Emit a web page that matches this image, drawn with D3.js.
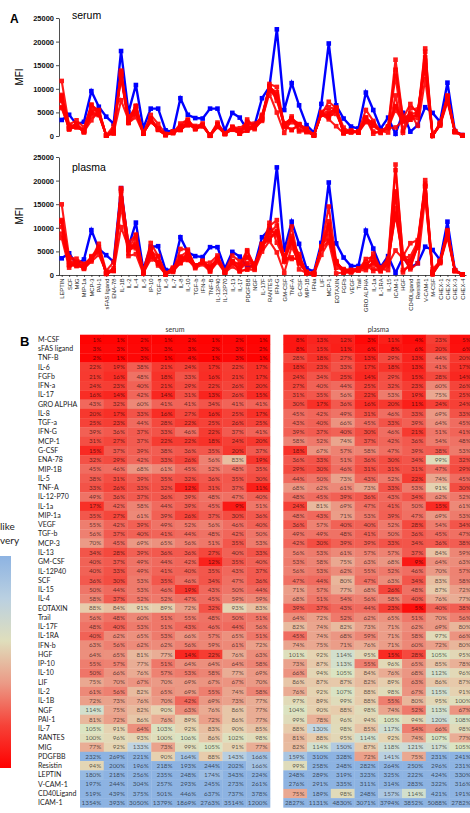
<!DOCTYPE html>
<html>
<head>
<meta charset="utf-8">
<script src="https://cdn.jsdelivr.net/npm/d3@7"></script>
<style>
body { margin: 0; background: #fff; }
svg { display: block; }
.axis text { font-family: "Liberation Sans", Arial, sans-serif; font-size: 7.5px; font-weight: bold; fill: #111; }
.axis path, .axis line { stroke: #222; stroke-width: 0.8; }
.xaxis text { font-family: "Liberation Sans", Arial, sans-serif; font-size: 5.8px; fill: #222; }
.xaxis path, .xaxis line { stroke: #222; stroke-width: 0.8; }
.hm { font-family: Lato, "Open Sans", sans-serif; }
</style>
</head>
<body>
<div id="chart"></div>
<script>
// analytes in the order of the x axis of panel A
var categories = ["LEPTIN","SCF","MIG","MIP-1a","MCP-3","PAI-1","sFAS ligand","ENA-78","IL-1B","IL-2",
  "IL-4","IL-5","IP-10","TGF-a","IL-6","IL-7","IL-8","IL-10","TGF-b","IFN-b",
  "TNF-B","IL-12P40","IL-12P70","IL-13","IL-17","PDGFBB","NGF","IL-17F","RANTES","IFN-G",
  "GM-CSF","TNF-A","G-CSF","MIP-1B","IFNa","LIF","MCP-1","EOTAXIN","FGFb","VEGF",
  "Trail","GRO ALPHA","IL-1a","IL-1RA","IL-15","ICAM-1","HGF","CD40Ligand","Resistin","V-CAM-1",
  "M-CSF","CHEX-1","CHEX-2","CHEX-3","CHEX-4"];

// blue line (control) MFI
var serumControl = [3400,4500,2500,3000,9500,6200,4100,2600,18000,5000,
  10800,1700,5800,5800,1200,900,8000,4500,3800,3700,
  5800,5800,1200,4900,3900,1300,2300,8000,10400,22600,
  5500,11200,6500,2300,700,6800,19600,6500,3700,2000,
  1600,9200,5500,1600,3900,460,4900,920,2300,6100,
  4900,3000,11300,1060,200];
var plasmaControl = [3530,4600,2300,3300,9500,5500,4200,2800,18400,6000,
  11100,1200,6000,6100,1060,1200,8000,4800,4000,3800,
  5900,5900,1400,4900,3900,1600,2100,8000,9700,22800,
  5300,11300,6600,1400,700,6800,19600,6700,3700,1900,
  1900,9400,5600,1700,4000,460,3800,1600,2500,6000,
  5300,3200,11300,1060,150];

// CHEX beads are not in table B: sample MFI
var chexNames = ["CHEX-1","CHEX-2","CHEX-3","CHEX-4"];
var serumChex = [[2600,2400,2800,2300,2700,2200,2500,2600],
  [8200,7600,8600,7800,8400,7200,8300,7900],
  [950,900,1000,850,950,800,900,950],
  [150,120,180,130,160,110,150,140]];
var plasmaChex = [[2900,2600,3000,2700,2800,2500,2900,2750],
  [9200,8400,9500,8800,9000,8000,9300,8700],
  [950,850,1000,900,950,800,900,950],
  [120,100,150,110,130,90,120,110]];

// table B rows (sample / control, %)
var rowLabels = ["M-CSF","sFAS ligand","TNF-B","IL-6","FGFb","IFN-a","IL-17","GRO ALPHA","IL-8","TGF-a",
  "IFN-G","MCP-1","G-CSF","ENA-78","MIP-1B","IL-5","TNF-A","IL-12-P70","IL-1a","MIP-1a",
  "VEGF","TGF-b","MCP-3","IL-13","GM-CSF","IL-12P40","SCF","IL-15","IL-4","EOTAXIN",
  "Trail","IL-17F","IL-1RA","IFN-b","HGF","IP-10","IL-10","LIF","IL-2","IL-1B",
  "NGF","PAI-1","IL-7","RANTES","MIG","PDGFBB","Resistin","LEPTIN","V-CAM-1","CD40Ligand","ICAM-1"];

var serumPct = [
  [1,1,2,1,2,1,2,1],[3,3,3,3,3,2,3,2],[2,1,3,1,4,1,3,1],[22,19,38,21,24,17,22,17],
  [21,16,48,18,33,16,21,17],[24,23,40,21,29,22,26,20],[16,14,42,14,31,13,26,15],
  [43,32,60,41,41,34,41,41],[20,17,33,16,27,16,25,17],[25,23,44,28,22,25,26,25],
  [39,36,37,33,46,22,37,41],[31,27,37,22,22,18,24,20],[15,37,39,38,36,35,20,37],
  [32,29,42,33,26,56,83,19],[45,46,68,61,45,52,48,35],[38,31,39,35,32,36,35,30],
  [33,26,33,32,12,31,37,11],[49,36,37,36,39,48,47,40],[17,42,58,44,39,45,9,51],
  [35,27,61,39,26,37,30,36],[55,42,39,49,52,56,46,40],[56,37,40,41,44,48,42,50],
  [70,45,69,65,56,51,35,53],[34,28,39,36,36,27,40,33],[40,37,49,44,42,12,35,40],
  [40,33,49,41,40,35,43,37],[36,30,53,35,46,34,47,36],[50,44,53,46,19,43,50,44],
  [58,37,52,52,47,45,59,59],[88,84,91,89,72,32,93,83],[56,48,60,51,55,48,50,51],
  [48,40,53,51,43,46,44,56],[40,62,65,53,66,57,65,51],[63,56,62,62,56,59,61,72],
  [64,65,81,77,14,22,76,63],[55,57,77,51,64,64,64,58],[50,66,76,57,53,58,77,69],
  [75,70,67,70,69,67,67,70],[61,56,82,65,69,55,74,58],[72,73,76,70,42,69,73,77],
  [114,75,82,90,63,76,86,77],[81,72,86,76,89,72,86,77],[105,91,64,103,92,83,90,85],
  [100,96,93,100,106,86,102,98],[77,92,133,73,99,105,91,77],[232,269,221,90,164,88,143,166],
  [94,200,196,218,193,244,202,166],[180,218,256,235,248,174,343,224],[197,244,304,257,293,245,273,261],
  [519,439,375,501,446,637,737,378],[1354,393,3050,1379,1869,2763,3514,1200]];

var plasmaPct = [
  [8,13,12,3,11,4,23,5],[8,15,11,6,8,6,20,6],[28,18,27,13,29,13,44,20],[18,23,33,17,18,13,41,17],
  [24,34,25,14,29,15,28,14],[27,40,44,25,32,23,60,26],[31,35,56,22,53,19,75,25],
  [30,17,36,16,20,11,24,24],[45,42,49,31,46,33,69,33],[43,40,66,45,33,39,64,45],
  [39,37,40,30,46,21,51,41],[58,52,74,37,42,36,54,48],[18,67,57,58,47,39,38,53],
  [36,33,51,36,30,34,99,32],[29,30,46,31,31,31,47,29],[44,50,73,43,52,22,74,45],
  [68,62,61,73,33,53,91,30],[48,45,39,36,43,34,62,52],[24,81,69,47,41,50,15,61],
  [48,43,71,53,39,47,69,53],[36,57,40,40,52,28,54,34],[49,49,48,41,50,36,45,47],
  [42,30,39,39,33,34,36,38],[56,53,61,57,57,37,84,59],[53,58,75,63,68,9,64,63],
  [56,53,62,55,52,46,70,57],[47,44,80,47,63,34,83,58],[71,57,77,68,26,48,87,72],
  [68,51,54,56,58,40,76,77],[39,37,43,44,23,5,40,38],[64,72,52,62,65,51,70,56],
  [82,74,82,73,71,62,69,80],[45,74,68,59,71,58,97,66],[74,75,71,76,71,60,72,80],
  [101,92,114,95,15,28,105,95],[73,87,113,55,96,65,85,78],[66,94,105,84,76,68,112,96],
  [86,87,87,82,89,63,86,87],[76,92,107,88,98,67,115,91],[97,89,99,88,55,80,95,100],
  [104,90,88,98,74,52,113,67],[99,78,96,94,105,94,120,108],[88,130,98,85,117,54,66,98],
  [81,88,95,114,92,74,107,77],[82,114,150,87,118,121,117,105],[159,310,328,72,141,75,231,241],
  [99,258,248,282,264,250,296,231],[248,289,319,323,325,222,424,330],[276,291,335,311,314,283,322,316],
  [75,189,98,248,157,114,421,191],[2827,1131,4830,3071,3794,3852,5088,2782]];

var yTicks = [0, 5000, 10000, 15000, 20000, 25000];

var svg = d3.select("#chart").append("svg")
  .attr("width", 470)
  .attr("height", 813);

function key(s) { return s.toLowerCase().replace(/[^a-z0-9]/g, ""); }

var rowIndex = {};
rowLabels.forEach(function(r, i) { rowIndex[key(r)] = i; });

// red lines: sample MFI = control MFI x the ratio printed in table B
function sampleSeries(control, pct, chex) {
  var out = [];
  for (var s = 0; s < 8; s++) {
    out.push(categories.map(function(c, i) {
      var ci = chexNames.indexOf(c);
      if (ci >= 0) return chex[ci][s];
      return control[i] * pct[rowIndex[key(c)]][s] / 100;
    }));
  }
  return out;
}

var x = d3.scalePoint().domain(categories).range([58, 466]).padding(0.5);

function panel(top, bottom, control, samples, title, titleY, withLabels) {
  var y = d3.scaleLinear().domain([0, 25000]).range([bottom, top]);
  var g = svg.append("g");

  g.append("g")
    .attr("class", "axis")
    .attr("transform", "translate(59,0)")
    .call(d3.axisLeft(y).tickValues(yTicks).tickFormat(d3.format("d")).tickSize(3).tickSizeOuter(0).tickPadding(2));

  if (withLabels) {
    var xa = g.append("g")
      .attr("class", "xaxis")
      .attr("transform", "translate(0," + bottom + ")")
      .call(d3.axisBottom(x).tickSize(2).tickSizeOuter(0));
    xa.selectAll("text")
      .attr("transform", "rotate(-90)")
      .attr("text-anchor", "end")
      .attr("x", -3.5)
      .attr("y", 0)
      .attr("dy", "0.35em");
  }

  g.append("text")
    .attr("transform", "translate(23," + ((top + bottom) / 2) + ") rotate(-90)")
    .attr("text-anchor", "middle")
    .attr("font-family", "Liberation Sans, Arial, sans-serif")
    .attr("font-size", 10)
    .text("MFI");

  g.append("text")
    .attr("x", 72).attr("y", titleY)
    .attr("font-family", "Liberation Sans, Arial, sans-serif")
    .attr("font-size", 10.5)
    .text(title);

  var line = d3.line()
    .x(function(d, i) { return x(categories[i]); })
    .y(function(d) { return y(d); });

  // blue control
  g.append("path").datum(control)
    .attr("fill", "none").attr("stroke", "#0000ff").attr("stroke-width", 2.4)
    .attr("d", line);
  g.selectAll(".bsq").data(control).enter().append("rect")
    .attr("x", function(d, i) { return x(categories[i]) - 2.3; })
    .attr("y", function(d) { return y(d) - 2.3; })
    .attr("width", 4.6).attr("height", 4.6)
    .attr("fill", "#0000ff");

  samples.forEach(function(s) {
    var sg = g.append("g").attr("opacity", 0.9);
    sg.append("path").datum(s)
      .attr("fill", "none").attr("stroke", "#ff0000").attr("stroke-width", 2.1)
      .attr("d", line);
    sg.selectAll("rect").data(s).enter().append("rect")
      .attr("x", function(d, i) { return x(categories[i]) - 2.3; })
      .attr("y", function(d) { return y(d) - 2.3; })
      .attr("width", 4.6).attr("height", 4.6)
      .attr("fill", "#ff0000");
  });
}

svg.append("text")
  .attr("x", 10).attr("y", 23)
  .attr("font-family", "Liberation Sans, Arial, sans-serif")
  .attr("font-size", 12).attr("font-weight", "bold")
  .text("A");

panel(18, 136, serumControl, sampleSeries(serumControl, serumPct, serumChex), "serum", 19, false);
panel(157, 275, plasmaControl, sampleSeries(plasmaControl, plasmaPct, plasmaChex), "plasma", 171, true);

// ---- panel B heat map ----
var color = d3.scaleLinear()
  .domain([0, 20, 45, 70, 90, 105, 130, 190])
  .range(["#ff0000", "#f7382e", "#f06c60", "#eb9a86", "#e6d1b0", "#dbe4c2", "#c3d6e1", "#8db3e2"])
  .clamp(true);

var rowY = d3.scaleBand().domain(rowLabels).range([334.7, 807.4]);
var colS = d3.scaleBand().domain(d3.range(8)).range([80, 270]);
var colP = d3.scaleBand().domain(d3.range(8)).range([283.3, 473.3]);

var hm = svg.append("g").attr("class", "hm");

hm.append("text")
  .attr("x", 20).attr("y", 346)
  .attr("font-family", "Liberation Sans, Arial, sans-serif")
  .attr("font-size", 13).attr("font-weight", "bold")
  .text("B");

hm.selectAll(".rl").data(rowLabels).enter().append("text")
  .attr("x", 38)
  .attr("y", function(d) { return rowY(d) + rowY.bandwidth() / 2; })
  .attr("dy", "0.35em")
  .attr("font-size", 7)
  .attr("fill", "#222")
  .text(function(d) { return d; });

function block(pct, col, title) {
  var cx = (col.range()[0] + col.range()[1]) / 2;
  hm.append("text")
    .attr("x", cx).attr("y", 331.5)
    .attr("text-anchor", "middle")
    .attr("font-size", 7).attr("fill", "#333")
    .text(title);
  pct.forEach(function(row, r) {
    var yy = rowY(rowLabels[r]);
    var rg = hm.append("g");
    rg.selectAll("rect").data(row).enter().append("rect")
      .attr("x", function(d, i) { return col(i); })
      .attr("y", yy)
      .attr("width", col.bandwidth() + 0.3)
      .attr("height", rowY.bandwidth() + 0.3)
      .attr("fill", function(d) { return color(d); });
    rg.selectAll("text").data(row).enter().append("text")
      .attr("x", function(d, i) { return col(i) + col.bandwidth() - 2.5; })
      .attr("y", yy + rowY.bandwidth() / 2)
      .attr("dy", "0.35em")
      .attr("text-anchor", "end")
      .attr("font-size", 6.3)
      .attr("fill", "#000").attr("fill-opacity", 0.62)
      .text(function(d) { return d + "%"; });
  });
}

block(serumPct, colS, "serum");
block(plasmaPct, colP, "plasma");

// colour key at left edge
var grad = svg.append("defs").append("linearGradient")
  .attr("id", "key").attr("x1", 0).attr("y1", 0).attr("x2", 0).attr("y2", 1);
[[0, 200], [0.2, 140], [0.4, 100], [0.6, 70], [0.8, 25], [1, 0]].forEach(function(s) {
  grad.append("stop").attr("offset", s[0]).attr("stop-color", color(s[1]));
});
svg.append("rect")
  .attr("x", 0).attr("y", 556).attr("width", 11).attr("height", 212)
  .attr("fill", "url(#key)");
svg.append("text").attr("class", "hm")
  .attr("x", 0).attr("y", 530).attr("font-size", 10).attr("fill", "#222").text("like");
svg.append("text").attr("class", "hm")
  .attr("x", 0).attr("y", 544).attr("font-size", 10).attr("fill", "#222").text("very");
</script>
</body>
</html>
